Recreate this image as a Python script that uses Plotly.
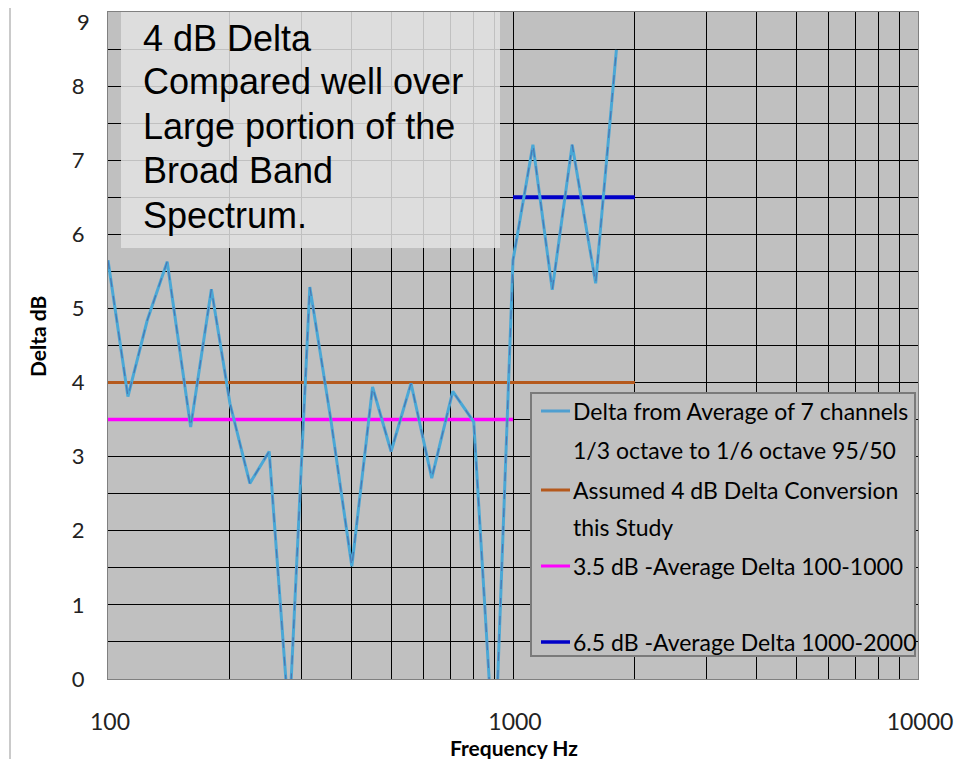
import plotly.graph_objects as go

# ---------------- data ----------------
freq_hz = [100, 112, 125, 140, 160, 180, 200, 224, 250, 280, 315, 355, 400,
           450, 500, 560, 630, 710, 800, 900, 1000, 1120, 1250, 1400, 1600, 1800]
delta_db = [5.65, 3.81, 4.84, 5.63, 3.40, 5.26, 3.72, 2.64, 3.07, -0.6, 5.29,
            3.5, 1.52, 3.94, 3.07, 3.99, 2.71, 3.88, 3.47, -1.2, 5.65, 7.21,
            5.25, 7.21, 5.34, 8.49]

assumed_x = [100, 2000]
assumed_y = [4, 4]
avg_low_x = [100, 1000]
avg_low_y = [3.5, 3.5]
avg_high_x = [1000, 2000]
avg_high_y = [6.5, 6.5]

x_tick_vals = [100, 1000, 10000]
x_tick_text = ["100", "1000", "10000"]
x_minor_vals = [200, 300, 400, 500, 600, 700, 800, 900,
                2000, 3000, 4000, 5000, 6000, 7000, 8000, 9000]
y_tick_vals = [0, 1, 2, 3, 4, 5, 6, 7, 8, 9]
y_tick_text = ["0", "1", "2", "3", "4", "5", "6", "7", "8", ""]
y_top_label = "9"

note_lines = ["4 dB Delta", "Compared well over", "Large portion of the",
              "Broad Band", "Spectrum."]
legend_lines = ["Delta from Average of 7 channels", "1/3 octave to 1/6 octave 95/50",
                "Assumed 4 dB Delta Conversion", "this Study",
                "3.5 dB -Average Delta 100-1000", "6.5 dB -Average Delta 1000-2000"]

# ---------------- layout helpers ----------------
# The page body has an 8px margin, so the figure sits 8px right/down in the shot.
OFF = 8
W, H = 965, 759
L, R, T, B = 108, 918, 12, 679  # plot area in screenshot pixels


def px(x):
    return (x - L) / (R - L)


def py(y):
    return (B - y) / (B - T)


fig = go.Figure()

fig.add_trace(go.Scatter(x=assumed_x, y=assumed_y, mode="lines",
                         line=dict(color="#b5591c", width=3), showlegend=False))
fig.add_trace(go.Scatter(x=avg_low_x, y=avg_low_y, mode="lines",
                         line=dict(color="#ff00ff", width=3.5), showlegend=False))
fig.add_trace(go.Scatter(x=avg_high_x, y=avg_high_y, mode="lines",
                         line=dict(color="#0000c8", width=4), showlegend=False))
fig.add_trace(go.Scatter(x=freq_hz, y=delta_db, mode="lines",
                         line=dict(color="#4aa8d6", width=3), showlegend=False))
fig.add_trace(go.Scatter(x=freq_hz, y=delta_db, mode="lines",
                         line=dict(color="#4a76b2", width=1.2, dash="dash"),
                         showlegend=False))

shapes = []
# outer frame lines
for xx in (10, 958):
    shapes.append(dict(type="line", xref="paper", yref="paper",
                       x0=px(xx), x1=px(xx), y0=py(H + 10), y1=py(0),
                       line=dict(color="#b8b8b8", width=1.5), layer="above"))
# note box
shapes.append(dict(type="rect", xref="paper", yref="paper",
                   x0=px(121), x1=px(500), y0=py(248), y1=py(T),
                   fillcolor="rgba(226,226,226,0.85)", line=dict(width=0),
                   layer="above"))
# legend box
shapes.append(dict(type="rect", xref="paper", yref="paper",
                   x0=px(531), x1=px(915), y0=py(656), y1=py(393),
                   fillcolor="#c0c0c0", line=dict(color="#7a7a7a", width=2),
                   layer="above"))
legend_samples = [(411, "#4f9fd0", 3), (490, "#b5591c", 3),
                  (566, "#ff00ff", 3), (642, "#0000c8", 3.5)]
for yy, col, wd in legend_samples:
    shapes.append(dict(type="line", xref="paper", yref="paper",
                       x0=px(541), x1=px(570), y0=py(yy), y1=py(yy),
                       line=dict(color=col, width=wd), layer="above"))

annotations = []
note_y = [38, 82, 126, 171, 215]
for txt, yy in zip(note_lines, note_y):
    annotations.append(dict(text=txt, xref="paper", yref="paper",
                            x=px(141), y=py(yy), xanchor="left", yanchor="middle",
                            showarrow=False,
                            font=dict(family="Liberation Sans, Arial", size=36,
                                      color="#000000")))
legend_y = [411, 450, 490, 527, 566, 642]
for txt, yy in zip(legend_lines, legend_y):
    annotations.append(dict(text=txt, xref="paper", yref="paper",
                            x=px(571), y=py(yy), xanchor="left", yanchor="middle",
                            showarrow=False,
                            font=dict(family="Lato", size=23, color="#000000")))
annotations.append(dict(text="<b>Delta dB</b>", xref="paper", yref="paper",
                        x=px(37), y=py(337), xanchor="center", yanchor="middle",
                        textangle=-90, showarrow=False,
                        font=dict(family="Lato", size=21, color="#000000")))
annotations.append(dict(text="<b>Frequency Hz</b>", xref="paper", yref="paper",
                        x=px(514), y=py(747), xanchor="center", yanchor="middle",
                        showarrow=False,
                        font=dict(family="Lato", size=21, color="#000000")))
# top y label kept fully inside the page
annotations.append(dict(text=y_top_label, xref="paper", yref="paper",
                        x=px(83), y=py(OFF - 2), xanchor="center", yanchor="top",
                        showarrow=False,
                        font=dict(family="Lato", size=22, color="#222222")))

fig.update_layout(
    width=W, height=H,
    margin=dict(l=L - OFF, r=W - (R - OFF), t=T - OFF, b=H - (B - OFF),
                autoexpand=False),
    paper_bgcolor="#ffffff",
    plot_bgcolor="#c0c0c0",
    shapes=shapes,
    annotations=annotations,
    showlegend=False,
)
fig.update_xaxes(
    type="log", range=[2, 4], automargin=False,
    tickmode="array", tickvals=x_tick_vals, ticktext=x_tick_text,
    showgrid=True, gridcolor="#000000", gridwidth=1,
    minor=dict(tickmode="array", tickvals=x_minor_vals, showgrid=True,
               gridcolor="#000000", gridwidth=1),
    showline=True, linecolor="#808080", mirror=True,
    ticks="", ticklabelstandoff=22, ticklabelshift=2,
    ticklabeloverflow="allow",
    tickfont=dict(family="Lato", size=23, color="#222222"),
    zeroline=False,
)
fig.update_yaxes(
    range=[0, 9], tickmode="array", tickvals=y_tick_vals, ticktext=y_tick_text,
    automargin=False,
    showgrid=True, gridcolor="#000000", gridwidth=1,
    minor=dict(dtick=0.5, showgrid=True, gridcolor="#000000", gridwidth=1),
    showline=True, linecolor="#808080", mirror=True,
    ticks="", ticklabelstandoff=18, ticklabeloverflow="allow",
    tickfont=dict(family="Lato", size=22, color="#222222"),
    zeroline=False,
)

fig.write_html("out.html")
